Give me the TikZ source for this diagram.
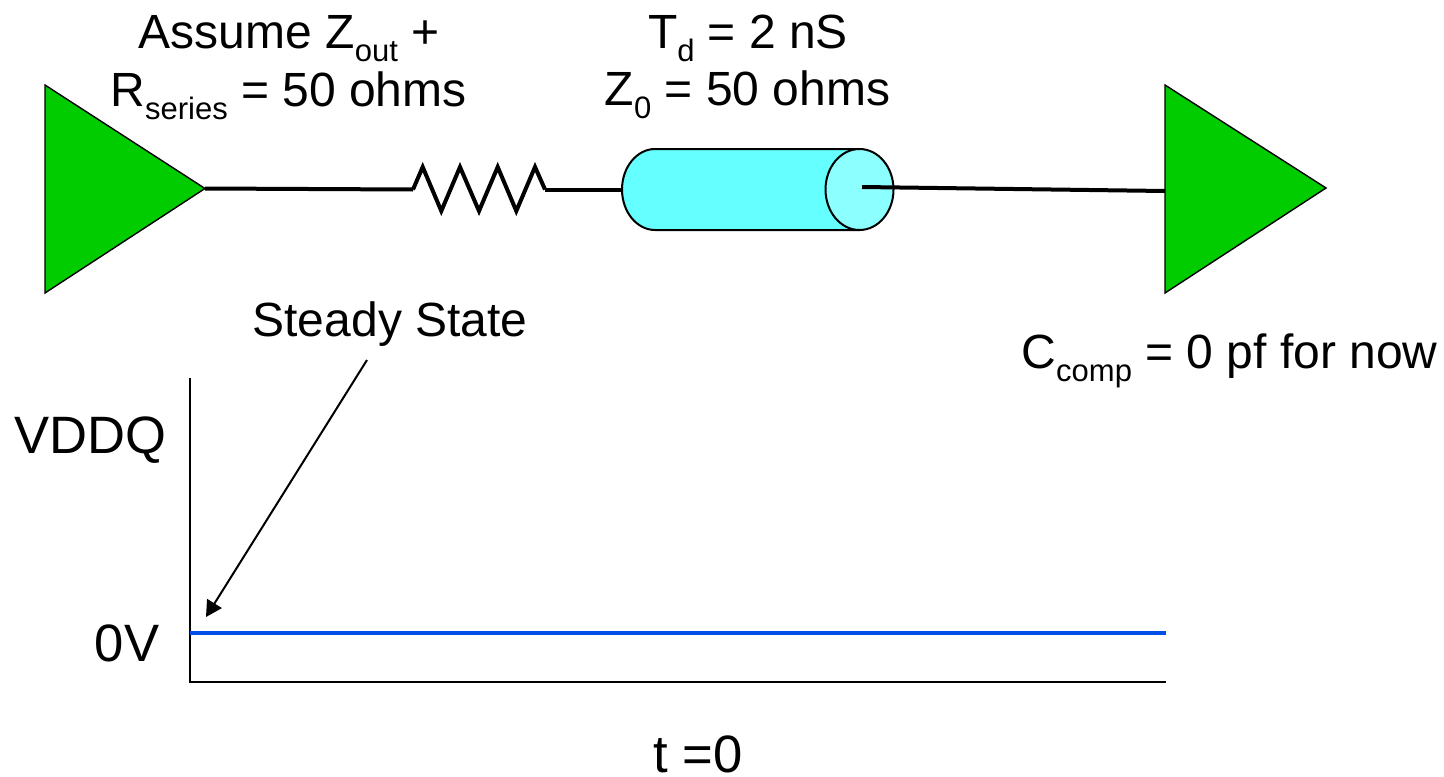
\documentclass[tikz,border=0pt]{standalone}
\usepackage{fontspec}
\setmainfont{Liberation Sans}
\usetikzlibrary{arrows.meta}
\definecolor{ampgreen}{RGB}{0,204,0}
\definecolor{cylbody}{RGB}{102,255,255}
\definecolor{cylend}{RGB}{140,255,255}
\definecolor{traceblue}{RGB}{0,80,230}
\newcommand{\sbs}[1]{\raisebox{-6.5pt}{\fontsize{15.5}{18}\selectfont #1}}
\tikzset{
  lbl/.style={inner sep=0pt,anchor=base,font=\fontsize{24}{28}\selectfont,text=black},
  biglbl/.style={lbl,font=\fontsize{26.3}{30}\selectfont},
  amp/.style={draw=black,fill=ampgreen,line width=0.7pt},
  wire/.style={draw=black,line width=2pt},
  thin wire/.style={draw=black,line width=1pt},
  cyl/.style={draw=black,line width=1pt},
}
\begin{document}
\begin{tikzpicture}[x=0.5pt,y=-0.5pt]
\useasboundingbox (0,0) rectangle (1444,776);
% coordinates
\coordinate (ampLtip) at (205,188.5);
\coordinate (ampRin) at (1165,191);
\coordinate (resL) at (413,189.5);
\coordinate (resR) at (545,189.5);
\coordinate (cylL) at (622,189.5);
\coordinate (cylC) at (862,187);
\coordinate (axTop) at (190,378);
\coordinate (axO) at (190,682);
\coordinate (axR) at (1166,682);
\coordinate (trL) at (190,633);
\coordinate (trR) at (1166,633);
\coordinate (arS) at (367,360);
\coordinate (arE) at (206,617);
% amplifiers
\draw[amp] (45,85) -- (ampLtip) -- (45,293) -- cycle;
\draw[amp] (1165,85) -- (1326,188) -- (1165,293) -- cycle;
% wires under the cylinder
\draw[wire] (ampLtip) -- (resL);
\draw[wire,line join=miter] (resL) -- (422.7,167) -- (441.3,211) -- (460,167) -- (479,211) -- (497.7,167) -- (516.3,211) -- (535,167) -- (resR);
\draw[wire] (resR) -- (cylL);
% cylinder
\draw[cyl,fill=cylbody] (655,149) -- (859,149) -- (859,230) -- (655,230)
  .. controls (637,230) and (622,212) .. (622,189.5)
  .. controls (622,167) and (637,149) .. (655,149) -- cycle;
\draw[cyl,fill=cylend] (859.5,189.5) ellipse[x radius=34,y radius=40.5];
\draw[wire] (cylC) -- (ampRin);
% graph
\draw[thin wire] (axTop) -- (axO) -- (axR);
\draw[draw=traceblue,line width=2pt] (trL) -- (trR);
\draw[thin wire,-{Triangle[length=8pt,width=8.5pt]}] (arS) -- (arE);
% labels
\node[lbl] (t1) at (289,48) {Assume Z\sbs{out} +};
\node[lbl] (t2) at (288.5,106) {R\sbs{series} = 50 ohms};
\node[lbl] (t3) at (748,48) {T\sbs{d} = 2 nS};
\node[lbl] (t4) at (747.5,105.5) {Z\sbs{0} = 50 ohms};
\node[lbl] (t5) at (390,336) {Steady State};
\node[lbl] (t6) at (1229.5,368) {C\sbs{comp} = 0 pf for now};
\node[biglbl] (t7) at (90,453) {VDDQ};
\node[biglbl] (t8) at (127,661) {0V};
\node[biglbl] (t9) at (698,772) {t =0};
\end{tikzpicture}
\end{document}
